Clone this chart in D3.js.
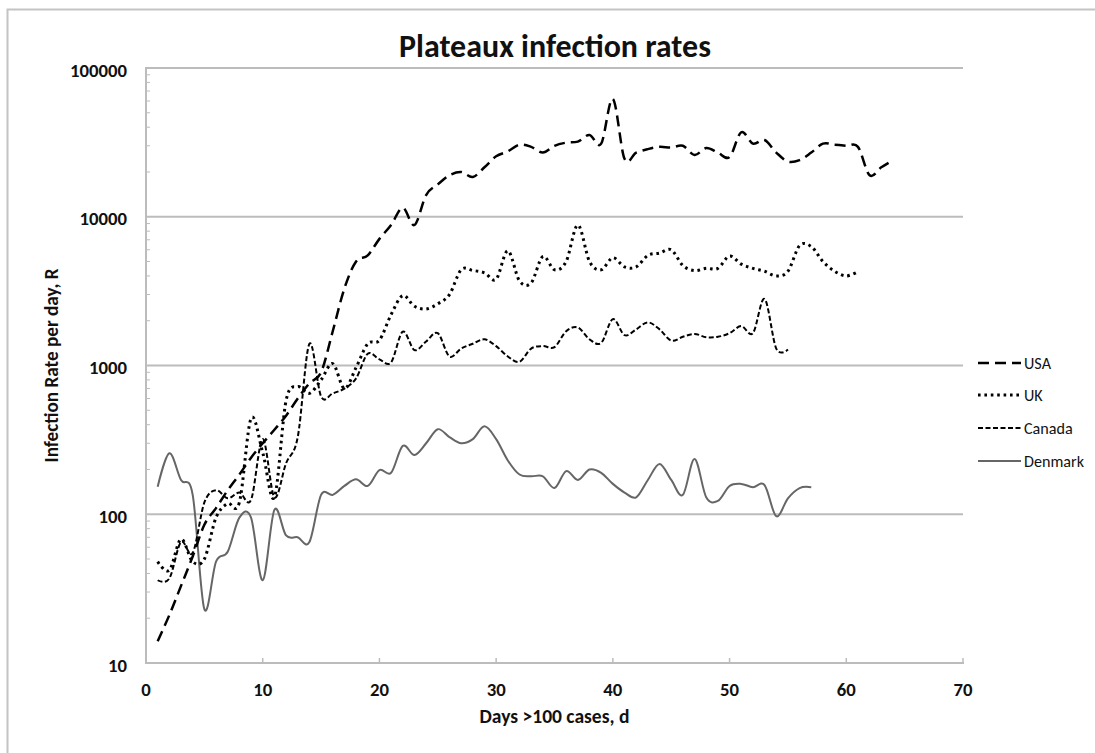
<!DOCTYPE html>
<html><head><meta charset="utf-8">
<script src="https://cdn.jsdelivr.net/npm/d3@7"></script>
<style>body{margin:0;background:#fff} svg{display:block}</style>
</head><body>
<svg id="c" width="1095" height="753"></svg>
<script>
// ---- data ----
const days = [1,2,3,4,5,6,7,8,9,10,11,12,13,14,15,16,17,18,19,20,21,22,23,24,25,26,27,28,29,30,31,32,33,34,35,36,37,38,39,40,41,42,43,44,45,46,47,48,49,50,51,52,53,54,55,56,57,58,59,60,61,62,63,64];
const usa = [14,21,33,52,85,110,145,185,240,300,370,460,600,760,900,1700,3300,5000,5500,7100,8800,11500,8800,14000,16500,19000,20000,18500,21500,25500,27500,30500,29500,27000,30000,31500,32000,35500,31000,62000,24500,27000,28500,29500,29200,30000,26000,29000,27000,25200,37000,31000,32800,27000,23500,24000,27000,31000,30500,30000,29500,19000,21500,24000];
const uk = [48,42,68,48,50,95,118,120,440,260,130,580,720,650,800,1030,700,970,1400,1480,2200,2950,2500,2400,2600,3000,4400,4350,4200,3800,5900,3700,3600,5400,4400,5000,8800,5000,4400,5300,4600,4600,5500,5700,6000,4700,4350,4500,4500,5450,4800,4500,4300,4000,4300,6400,6300,5000,4300,4000,4270];
const canada = [36,37,65,55,120,145,128,140,125,320,130,220,330,1400,620,650,700,820,1200,1100,1050,1690,1270,1450,1650,1150,1300,1400,1500,1350,1150,1060,1300,1350,1330,1700,1800,1500,1420,2050,1600,1750,1950,1750,1470,1560,1630,1550,1560,1650,1840,1650,2800,1300,1280];
const denmark = [153,257,170,135,23,48,56,95,95,36,107,72,70,65,135,135,155,172,155,198,190,288,250,300,373,330,300,320,390,320,230,185,180,180,150,195,170,200,190,160,140,130,170,218,170,135,235,130,123,155,160,152,157,97,128,150,152];
const seriesNames = ["USA","UK","Canada","Denmark"];
const xTicks = [0,10,20,30,40,50,60,70];
const yTicks = [10,100,1000,10000,100000];
const title = "Plateaux infection rates";
const xTitle = "Days >100 cases, d";
const yTitle = "Infection Rate per day, R";

// ---- layout ----
const svg = d3.select("#c");
const L = 146, R = 963, T = 68, B = 663;
const x = d3.scaleLinear().domain([0,70]).range([L,R]);
const y = d3.scaleLog().domain([10,100000]).range([B,T]);
const font = "Carlito, Lato, 'Liberation Sans', sans-serif";
const grid = "#bcbcbc";

// font size that makes a string reach a target width
function fitSize(str, weight, target) {
  const t = svg.append("text").attr("font-family",font).attr("font-weight",weight)
    .attr("font-size",100).text(str);
  const w = t.node().getBBox().width;
  t.remove();
  return 100 * target / w;
}
const tickSize = fitSize("100000","bold",57);
const titleSize = fitSize(title,"bold",312);
const xTitleSize = fitSize(xTitle,"bold",150);
const yTitleSize = fitSize(yTitle,"bold",194);
const legSize = fitSize("Denmark","normal",60);

// frame
svg.append("rect").attr("x",7.5).attr("y",9.5).attr("width",1200).attr("height",900)
  .attr("fill","none").attr("stroke","#c4c4c4").attr("stroke-width",2);

// gridlines
svg.append("g").selectAll("line").data(yTicks.filter(v=>v>10)).join("line")
  .attr("x1",L).attr("x2",R).attr("y1",d=>y(d)).attr("y2",d=>y(d))
  .attr("stroke",grid).attr("stroke-width",2);

// minor ticks on y
const minors = [];
for (const dec of [10,100,1000,10000]) for (let k=2;k<=9;k++) minors.push(dec*k);
svg.append("g").selectAll("line").data(minors).join("line")
  .attr("x1",L).attr("x2",L+4).attr("y1",d=>y(d)).attr("y2",d=>y(d))
  .attr("stroke",grid).attr("stroke-width",1);
svg.append("line").attr("x1",L).attr("x2",L+6).attr("y1",y(100000)).attr("y2",y(100000))
  .attr("stroke",grid).attr("stroke-width",2);

// axes lines
svg.append("line").attr("x1",L).attr("x2",L).attr("y1",T-1).attr("y2",B+1).attr("stroke",grid).attr("stroke-width",2);
svg.append("line").attr("x1",L-1).attr("x2",R+1).attr("y1",B).attr("y2",B).attr("stroke",grid).attr("stroke-width",2);
svg.append("g").selectAll("line").data(xTicks.slice(1)).join("line")
  .attr("x1",d=>x(d)).attr("x2",d=>x(d)).attr("y1",B).attr("y2",B-5)
  .attr("stroke",grid).attr("stroke-width",1.5);

// tick labels
svg.append("g").selectAll("text").data(yTicks).join("text")
  .attr("x",127).attr("y",d=>y(d)+2).attr("dy","0.35em").attr("text-anchor","end")
  .attr("font-family",font).attr("font-weight","bold").attr("font-size",tickSize).attr("fill","#111")
  .text(d=>d);
svg.append("g").selectAll("text").data(xTicks).join("text")
  .attr("x",d=>x(d)).attr("y",696).attr("text-anchor","middle")
  .attr("font-family",font).attr("font-weight","bold").attr("font-size",tickSize).attr("fill","#111")
  .text(d=>d);

// titles
svg.append("text").attr("x",555).attr("y",57).attr("text-anchor","middle")
  .attr("font-family",font).attr("font-weight","bold").attr("font-size",titleSize).attr("fill","#111").text(title);
svg.append("text").attr("x",554.5).attr("y",723).attr("text-anchor","middle")
  .attr("font-family",font).attr("font-weight","bold").attr("font-size",xTitleSize).attr("fill","#111").text(xTitle);
svg.append("text").attr("transform","translate(58,365.5) rotate(-90)").attr("text-anchor","middle")
  .attr("font-family",font).attr("font-weight","bold").attr("font-size",yTitleSize).attr("fill","#111").text(yTitle);

// series
const styles = {
  USA:{data:usa, stroke:"#000", width:2.5, dash:"11,6"},
  UK:{data:uk, stroke:"#000", width:3, dash:"2.6,3.8"},
  Canada:{data:canada, stroke:"#000", width:2, dash:"5,2.5"},
  Denmark:{data:denmark, stroke:"#666", width:2, dash:null}
};
const line = d3.line().x(d=>x(d[0])).y(d=>y(d[1])).curve(d3.curveCatmullRom.alpha(0));
for (const name of ["Denmark","Canada","UK","USA"]) {
  const s = styles[name];
  const pts = s.data.map((v,i)=>[days[i],v]);
  svg.append("path").attr("d",line(pts)).attr("fill","none")
    .attr("stroke",s.stroke).attr("stroke-width",s.width)
    .attr("stroke-dasharray",s.dash);
}

// legend
const legY = [363,395,428,461];
seriesNames.forEach((name,i)=>{
  const s = styles[name];
  svg.append("line").attr("x1",978).attr("x2",1021).attr("y1",legY[i]).attr("y2",legY[i])
    .attr("stroke",s.stroke).attr("stroke-width",s.width).attr("stroke-dasharray",s.dash);
  svg.append("text").attr("x",1024).attr("y",legY[i]).attr("dy","0.35em").attr("font-family",font)
    .attr("font-size",legSize).attr("fill","#111").text(name);
});
</script>
</body></html>
